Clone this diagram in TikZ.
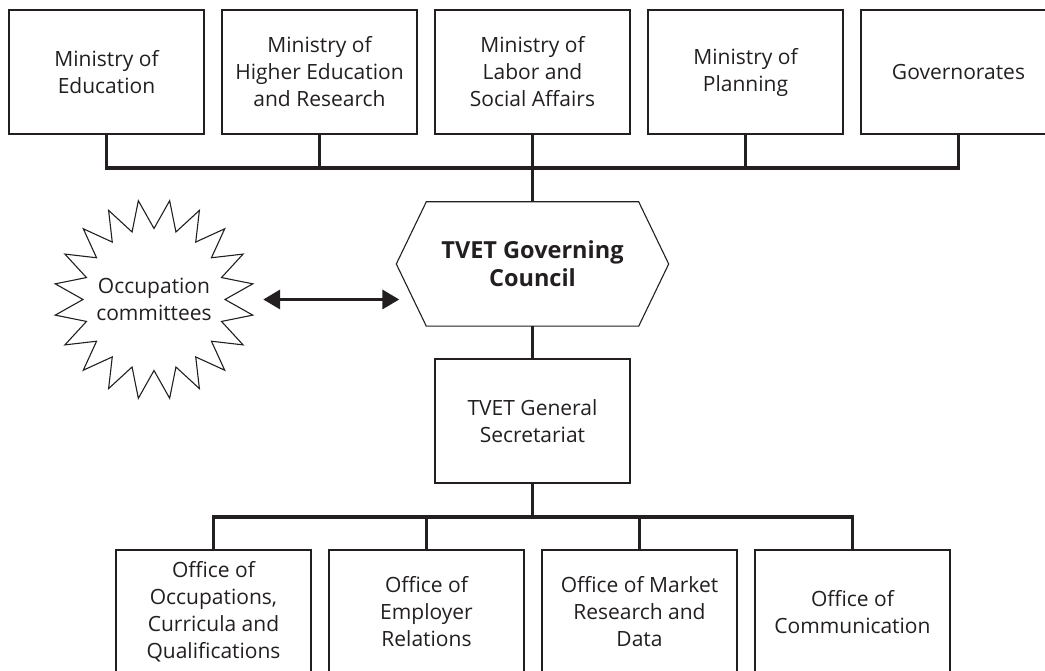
\documentclass[tikz,border=0pt]{standalone}
\usepackage{fontspec}
\setmainfont{Open Sans}
\usetikzlibrary{arrows.meta}
\definecolor{inkblack}{HTML}{231F20}

\begin{document}
\begin{tikzpicture}[x=1pt,y=1pt,
        unit/.style={draw=inkblack, line width=1.1pt, minimum width=195pt, minimum height=124pt,
            inner sep=0pt, align=center, text=inkblack, font=\fontsize{21}{27}\selectfont},
        link/.style={draw=inkblack, line width=3.5pt},
        twoway/.style={draw=inkblack, line width=3.5pt,
            {Triangle[length=17pt,width=19pt]}-{Triangle[length=17pt,width=19pt]}}]
            \clip (0,0) rectangle (1045,671); % picture frame

            % Ministries along the top
            \node[unit] (edu) at (106.5,599) {Ministry of\\Education};
            \node[unit] (higher) at (319.5,599) {Ministry of\\Higher Education\\and Research};
            \node[unit] (labor) at (532.5,599) {Ministry of\\Labor and\\Social Affairs};
            \node[unit] (plan) at (745.5,599) {Ministry of\\Planning};
            \node[unit] (gov) at (958.5,599) {Governorates};
            \coordinate (topbus) at (532.5,503); % top bar

            % Council (hexagon drawn round the node)
            \node[minimum width=272pt, minimum height=124pt, inner sep=0pt, align=center, text=inkblack,
                font=\fontsize{23.5}{28}\selectfont\bfseries] (council) at (532.5,407) {TVET Governing\\Council};
            \draw[inkblack, line width=1.1pt] (council.west) -- ([xshift=30pt]council.north west)
                -- ([xshift=-30pt]council.north east) -- (council.east)
                -- ([xshift=-30pt]council.south east) -- ([xshift=30pt]council.south west) -- cycle;

            % Occupation committees (20-point star drawn round the node)
            \node[circle, minimum size=200pt, inner sep=0pt, align=center, text=inkblack,
                font=\fontsize{21}{27}\selectfont] (occ) at (154,371.5) {Occupation\\committees};
            \draw[inkblack, line width=1.1pt, shift={(occ.center)}] (9:100)
                \foreach \i in {1,...,39} { -- ({9+9*\i}:{mod(\i,2)==0 ? 100 : 71}) } -- cycle;

            % Secretariat
            \node[unit] (sec) at (532.5,250) {TVET General\\Secretariat};
            \coordinate (lowbus) at (532.5,154); % lower bar

            % Offices along the bottom
            \node[unit] (occs) at (213.5,59) {Office of\\Occupations,\\Curricula and\\Qualifications};
            \node[unit] (empl) at (426.5,59) {Office of\\Employer\\Relations};
            \node[unit] (market) at (639.5,59) {Office of Market\\Research and\\Data};
            \node[unit] (comm) at (852.5,59) {Office of\\Communication};

            % Connectors
            \draw[link] (edu.south) |- (gov.south |- topbus) -- (gov.south);
            \foreach \n in {higher,labor,plan}
                \draw[link] (\n.south) -- (\n.south |- topbus);
            \draw[link] (topbus) -- (council.north);
            \draw[link] (council.south) -- (sec.north);
            \draw[link] (sec.south) -- (lowbus);
            \draw[link] (occs.north) |- (comm.north |- lowbus) -- (comm.north);
            \foreach \n in {empl,market}
                \draw[link] (\n.north) -- (\n.north |- lowbus);
            \draw[twoway] ([xshift=9pt]occ.east) -- ([xshift=3pt]occ.center -| council.west);

        \end{tikzpicture}
\end{document}
